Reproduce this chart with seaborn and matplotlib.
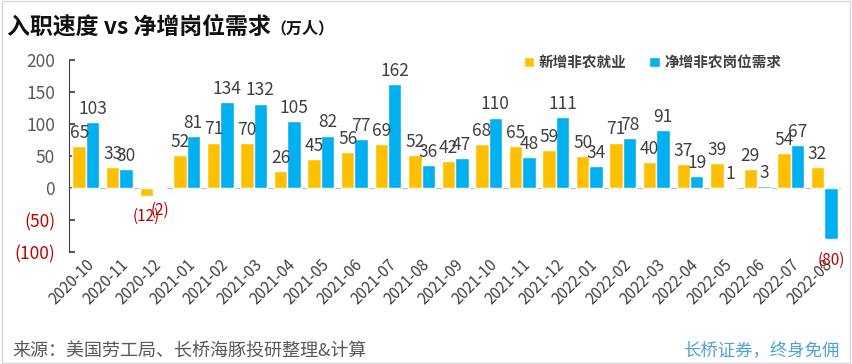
import matplotlib.pyplot as plt
import seaborn as sns
import pandas as pd
from matplotlib.patches import Rectangle

# chart data (万人)
months = ['2020-10', '2020-11', '2020-12', '2021-01', '2021-02', '2021-03', '2021-04',
          '2021-05', '2021-06', '2021-07', '2021-08', '2021-09', '2021-10', '2021-11',
          '2021-12', '2022-01', '2022-02', '2022-03', '2022-04', '2022-05', '2022-06',
          '2022-07', '2022-08']
new_jobs = [65, 33, -12, 52, 71, 70, 26, 45, 56, 69, 52, 42, 68, 65, 59, 50, 71, 40, 37, 39, 29, 54, 32]
net_demand = [103, 30, -2, 81, 134, 132, 105, 82, 77, 162, 36, 47, 110, 48, 111, 34, 78, 91, 19, 1, 3, 67, -80]
series_names = ['新增非农就业', '净增非农岗位需求']
y_ticks = [-100, -50, 0, 50, 100, 150, 200]

df = pd.DataFrame({
    'month': months * 2,
    'value': new_jobs + net_demand,
    'series': [series_names[0]] * len(months) + [series_names[1]] * len(months),
})

sns.set_theme(style='white')
plt.rcParams['font.family'] = ['Noto Sans CJK SC', 'DejaVu Sans']

fig = plt.figure(figsize=(8.53, 3.64), dpi=100)
ax = fig.add_axes([0.081, 0.308, 0.905, 0.527])

palette = {series_names[0]: '#FFC000', series_names[1]: '#00B0F0'}
sns.barplot(data=df, x='month', y='value', hue='series', palette=palette,
            width=0.8, saturation=1, ax=ax, zorder=3)

ax.axhline(0, color='#BFBFBF', lw=0.8, zorder=2)
ax.set_ylim(-100, 200)
ax.set_xlim(-0.5, len(months) - 0.5)
ax.set_yticks(y_ticks)


def fmt(v):
    return f'({abs(v)})' if v < 0 else f'{v}'


ax.set_yticklabels([fmt(v) for v in y_ticks])
for lab, v in zip(ax.get_yticklabels(), y_ticks):
    lab.set_color('#C00000' if v < 0 else '#595959')
ax.tick_params(axis='y', direction='in', length=4, labelsize=12.5, pad=10, color='#404040', left=True)
ax.tick_params(axis='x', length=0, labelsize=11, labelcolor='#404040', pad=3)
plt.setp(ax.get_xticklabels(), rotation=45, ha='right', rotation_mode='anchor')

for side in ['top', 'right', 'bottom']:
    ax.spines[side].set_visible(False)
ax.spines['left'].set_color('#404040')
ax.spines['left'].set_linewidth(0.8)
ax.set_xlabel('')
ax.set_ylabel('')

# data labels
for container in ax.containers:
    for bar in container:
        v = bar.get_height()
        x = bar.get_x() + bar.get_width() / 2
        if v >= 0:
            ax.annotate(fmt(round(v)), (x, v), xytext=(0, 3), textcoords='offset points',
                        ha='center', va='bottom', fontsize=12.5, color='#404040')
        else:
            ax.annotate(fmt(round(v)), (x, v), xytext=(0, -9), textcoords='offset points',
                        ha='center', va='top', fontsize=11, color='#C00000')

ax.legend(loc='center left', bbox_to_anchor=(0.572, 0.99), ncol=2, frameon=False,
          handlelength=0.7, handleheight=0.7, handletextpad=0.3, columnspacing=1.6,
          prop={'weight': 'bold', 'size': 10.5}, labelcolor='#404040')

title = fig.text(0.008, 0.926, '入职速度 vs 净增岗位需求', fontsize=16.5, fontweight='bold',
                 color='#111111', va='center')
ax.annotate('（万人）', xy=(1, 0.45), xycoords=title, va='center', ha='left',
            fontsize=11.5, fontweight='bold', color='#111111', annotation_clip=False)
fig.text(0.014, 0.038, '来源：美国劳工局、长桥海豚投研整理&计算', fontsize=13, color='#595959', va='center')
fig.text(0.984, 0.038, '长桥证券，终身免佣', fontsize=12.5, color='#4FA3CC', ha='right', va='center')

fig.patches.append(Rectangle((0.002, 0.003), 0.995, 0.993, transform=fig.transFigure,
                             fill=False, edgecolor='#D9D9D9', lw=1))

fig.savefig('out.png', dpi=100)
